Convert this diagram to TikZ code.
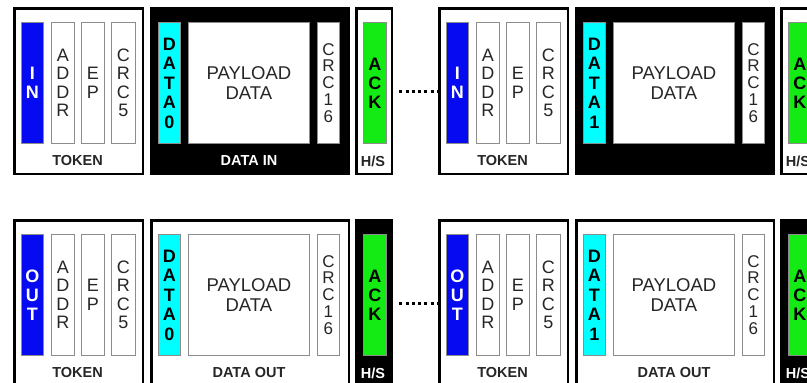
\documentclass[tikz,border=0pt]{standalone}
\usepackage{fontspec}
\setmainfont{Liberation Sans}
\usetikzlibrary{positioning}
\definecolor{pidblue}{RGB}{5,10,240}
\definecolor{datacyan}{RGB}{0,255,255}
\definecolor{ackgreen}{RGB}{20,235,20}

\begin{document}
\begin{tikzpicture}[x=1pt, y=-1pt,
  frame/.style={draw, line width=2.5pt, anchor=north west, inner sep=0pt, minimum height=165.5pt},
  field/.style={draw=black!45, line width=0.8pt, fill=white, anchor=north west, inner sep=0pt,
    minimum height=121pt, minimum width=23pt, align=center, text=black!85,
    font=\fontsize{18}{18.3}\selectfont},
  pidbox/.style={field, fill=pidblue, text=white, font=\bfseries\fontsize{18}{19}\selectfont},
  databox/.style={field, fill=datacyan, text=black, font=\bfseries\fontsize{18}{19.5}\selectfont},
  ackbox/.style={field, fill=ackgreen, text=black, font=\bfseries\fontsize{18}{19}\selectfont},
  lab/.style={inner sep=1pt, font=\bfseries\fontsize{14.5}{14.5}\selectfont},
  dots/.style={line width=3pt, dash pattern=on 3pt off 3.3pt, shorten <=6pt, shorten >=1pt}]
  \clip (0,0) rectangle (807,383);
  \useasboundingbox (0,0) rectangle (807,383);

  \foreach \gx/\ry/\n/\pid/\dn/\dfl/\dtx/\hfl/\htx/\dlab in
    {0/0/ta/{I\\N}/0/black/white/white/black!85/{DATA IN},
     425/0/tb/{I\\N}/1/black/white/white/black!85/{},
     0/212/ba/{O\\U\\T}/0/white/black!85/black/white/{DATA OUT},
     425/212/bb/{O\\U\\T}/1/white/black!85/black/white/{DATA OUT}} {
    % token, data and handshake packets
    \node[frame, fill=white, minimum width=128.5pt] (tok-\n) at (\gx+13.25,\ry+7.25) {};
    \node[frame, fill=\dfl, minimum width=197.5pt] (dat-\n) at (\gx+150.25,\ry+7.25) {};
    \node[frame, fill=\hfl, minimum width=35.5pt] (hs-\n) at (\gx+355.25,\ry+7.25) {};

    \node[pidbox, minimum width=22pt] (pid-\n) at (\gx+21,\ry+22) {\pid};
    \node[field] (addr-\n) at (\gx+51,\ry+22) {A\\D\\D\\R};
    \node[field] (ep-\n) at (\gx+81,\ry+22) {E\\P};
    \node[field, minimum width=24pt] (crc5-\n) at (\gx+111,\ry+22) {C\\R\\C\\5};

    \node[databox, minimum width=22pt] (dpid-\n) at (\gx+158,\ry+22) {D\\A\\T\\A\\\dn};
    \node[field, minimum width=121pt, font=\fontsize{18.5}{19.5}\selectfont] (pay-\n) at (\gx+188,\ry+22) {PAYLOAD\\DATA};
    \node[field, minimum width=22pt, font=\fontsize{17}{16.8}\selectfont] (crc16-\n) at (\gx+317,\ry+22) {C\\R\\C\\1\\6};

    \node[ackbox] (ack-\n) at (\gx+363,\ry+22) {A\\C\\K};

    \node[lab, text=black!85] (toklab-\n) at (\gx+77.5,\ry+161) {TOKEN};
    \node[lab, text=\dtx] (datlab-\n) at (\gx+249,\ry+161) {\dlab};
    \node[lab, text=\htx] (hslab-\n) at (\gx+373,\ry+161) {H/S};
  }

  \draw[dots] (hs-ta) -- (tok-tb);
  \draw[dots] (hs-ba) -- (tok-bb);
\end{tikzpicture}
\end{document}
